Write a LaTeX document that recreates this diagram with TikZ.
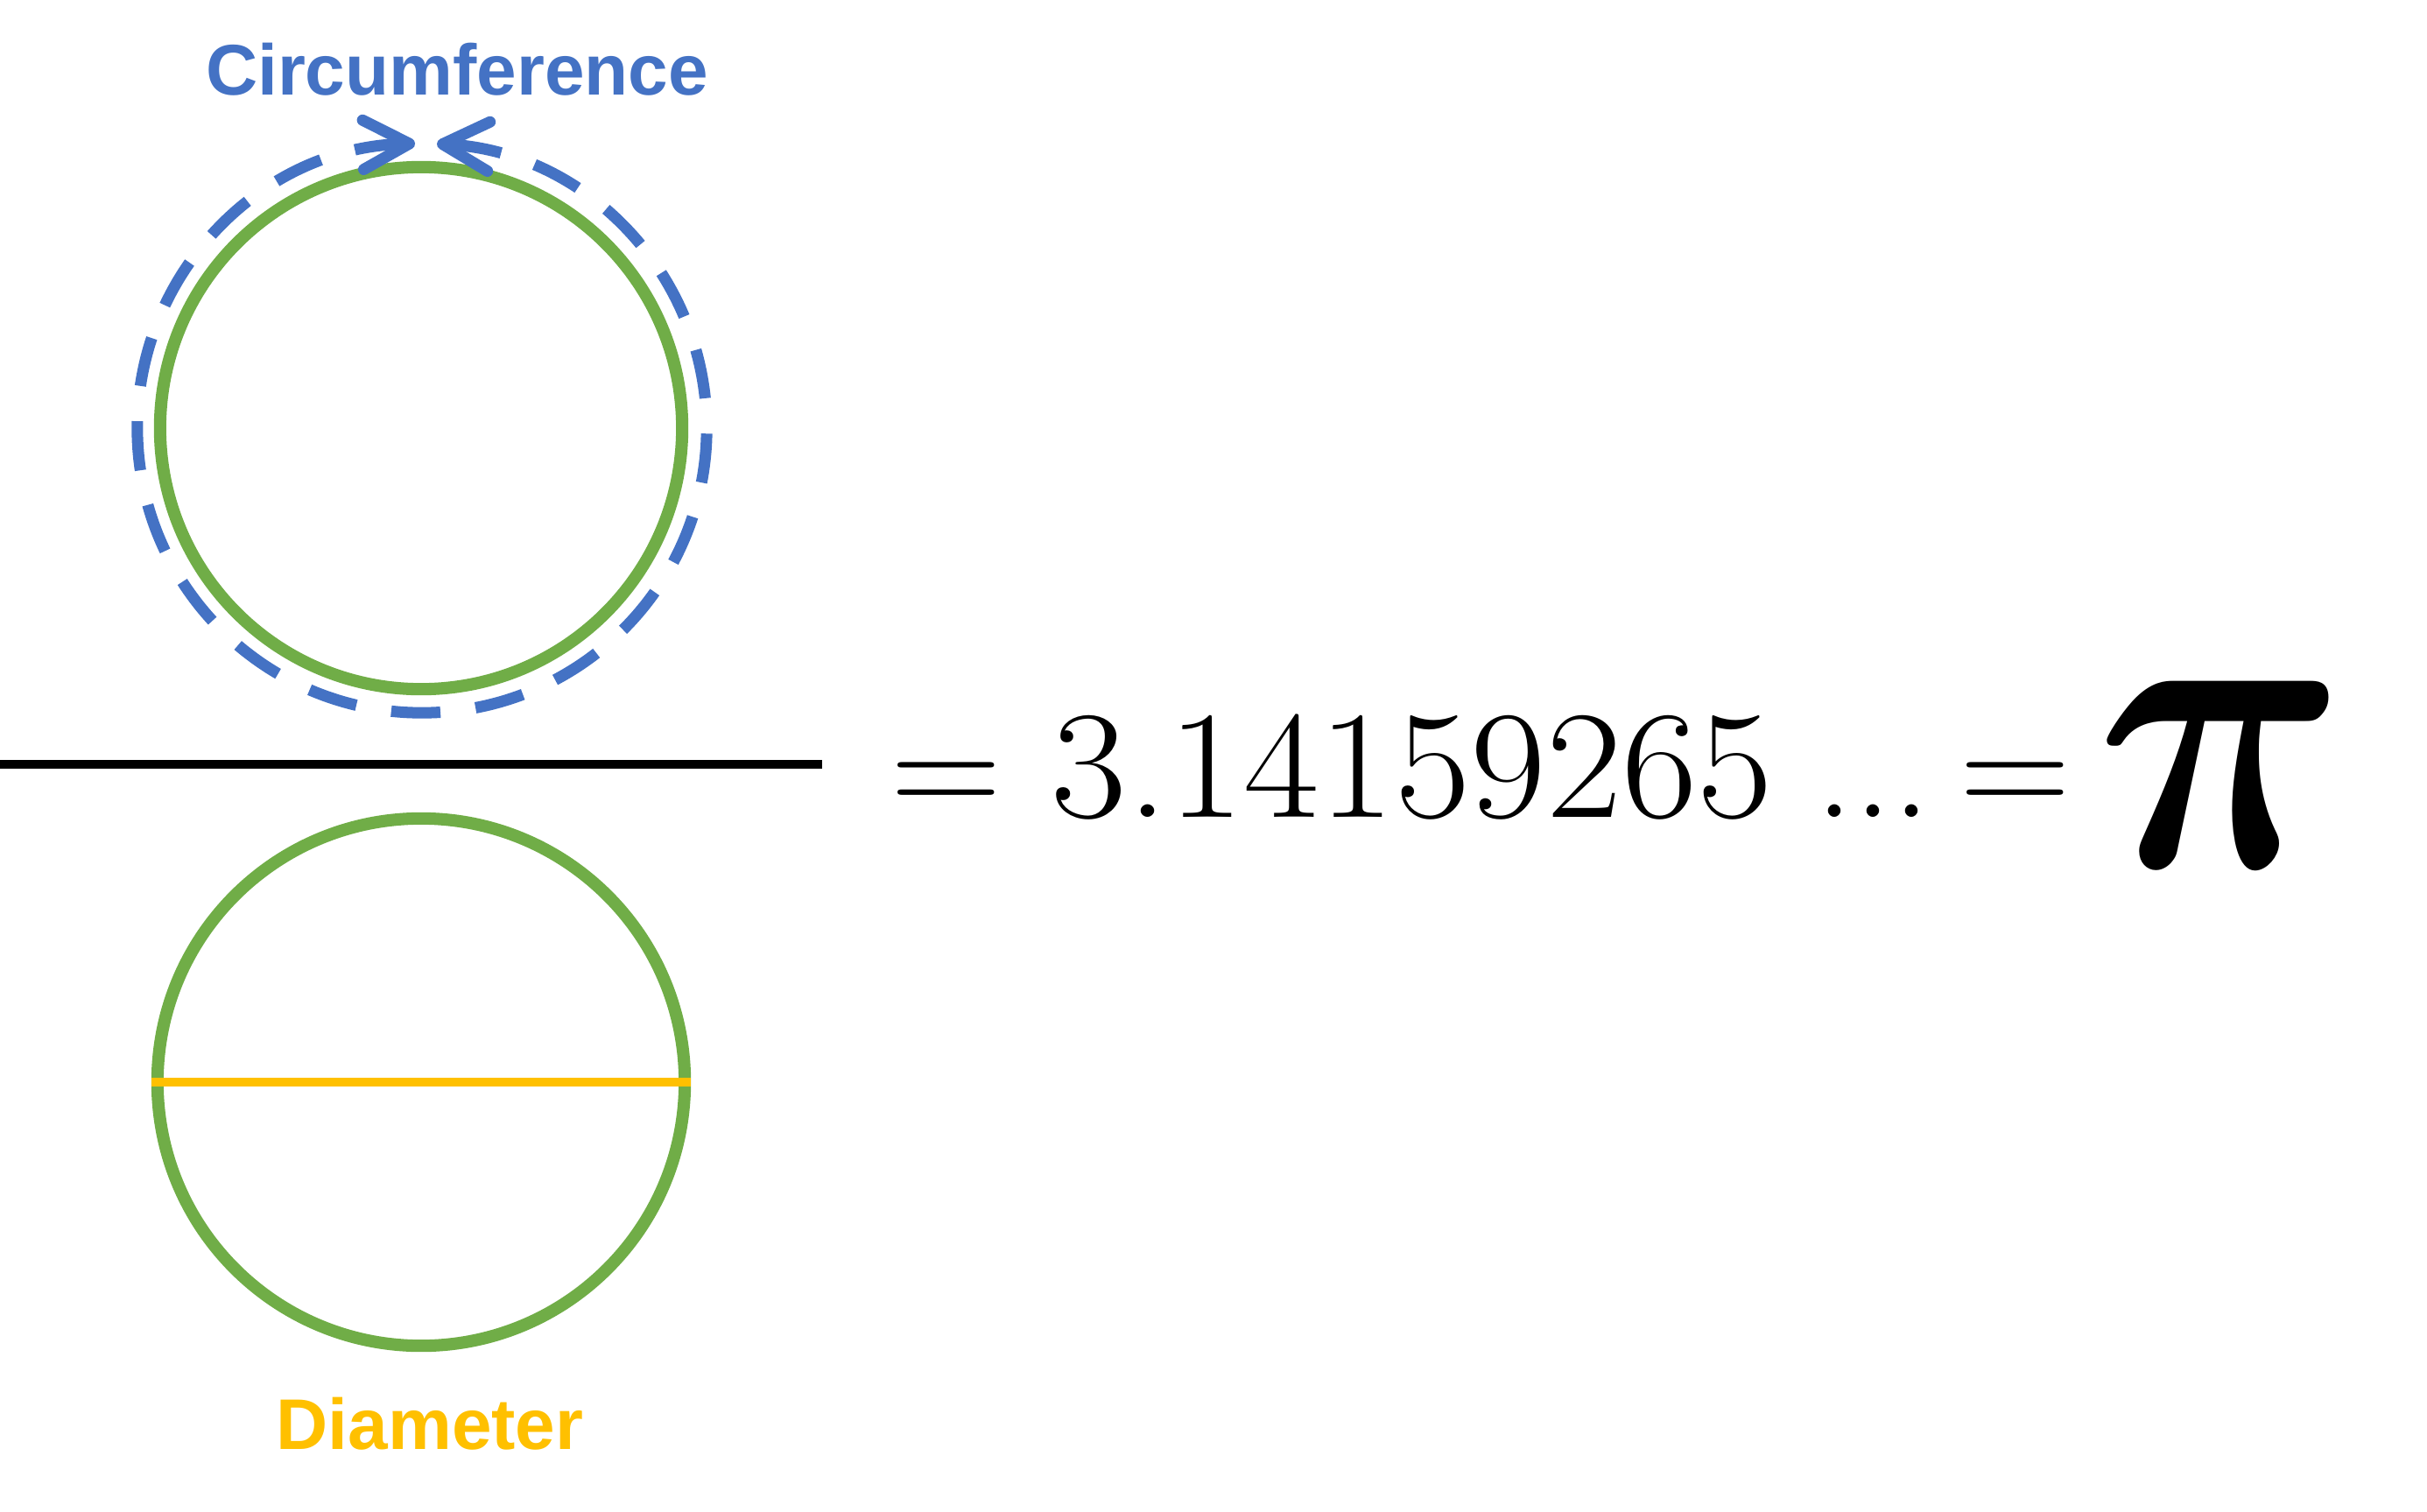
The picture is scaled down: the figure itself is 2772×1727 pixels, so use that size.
\documentclass[tikz,border=0pt]{standalone}
\usepackage{fontspec}
\newfontfamily\labelfont{Liberation Sans}
\usetikzlibrary{arrows.meta}
\definecolor{cblue}{HTML}{4472C4}
\definecolor{cgreen}{HTML}{70AD47}
\definecolor{cyellow}{HTML}{FFC000}
\begin{document}
\begin{tikzpicture}[x=0.01cm,y=0.01cm,
  ring/.style={circle,draw=cgreen,line width=4pt,inner sep=0pt},
  circum/.style={draw=cblue,line width=3.7pt,dash pattern=on 16pt off 11.5pt,
     {Straight Barb[length=15pt,width=16pt,round]}-{Straight Barb[length=15pt,width=16pt,round]}},
  lbl/.style={font=\labelfont\bfseries\fontsize{23.3}{28}\selectfont,inner sep=0pt,anchor=base},
  eqtext/.style={font=\fontsize{50}{60}\selectfont,inner sep=0pt,anchor=base}]
\useasboundingbox (0,0) rectangle (2772,-1727);
% top circle
\coordinate (c1) at (482,-489);
\node[ring,minimum size=5.96cm] (top) at (481,-489) {};
\draw[circum] ([shift={(91.4:3.25cm)}]c1) arc[start angle=91.4,end angle=447,radius=3.25cm];
\node[lbl,text=cblue] (circ) at (522,-108) {Circumference};
% fraction line
\coordinate (fl) at (0,-873);
\coordinate (fr) at (939,-873);
\draw[line width=2.6pt] (fl) -- (fr);
% bottom circle
\node[ring,minimum size=6.02cm] (bot) at (481,-1236) {};
\draw[cyellow,line width=3pt] (bot.west) -- (bot.east);
\node[lbl,text=cyellow] (diam) at (491,-1655) {Diameter};
% equation
\node[eqtext] (eq1) at (1081,-933) {=};
\node[eqtext] (num) at (1613,-933) {\scalebox{1.07}[1]{3.14159265}};
\node[eqtext] (dots) at (2139,-933) {...};
\node[eqtext] (eq2) at (2302,-933) {=};
\node[inner sep=0pt] (pi) at (2537,-884) {\scalebox{11.3}[13.6]{\boldmath$\pi$}};
\end{tikzpicture}
\end{document}
